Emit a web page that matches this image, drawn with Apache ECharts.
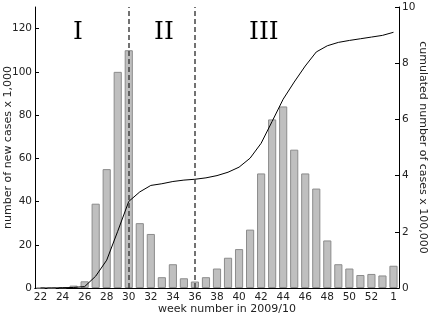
<!DOCTYPE html>
<html>
<head>
<meta charset="utf-8">
<script src="https://cdn.jsdelivr.net/npm/echarts@6/dist/echarts.min.js"></script>
<style>
  html, body { margin: 0; padding: 0; background: #fff; }
  #chart { width: 430px; height: 315px; }
</style>
</head>
<body>
<div id="chart"></div>
<script>
// week numbers 2009 (22..53) followed by week 1 of 2010
const weeks = ['22','23','24','25','26','27','28','29','30','31','32','33','34','35','36','37',
  '38','39','40','41','42','43','44','45','46','47','48','49','50','51','52','53','1'];

// new cases x 1,000
const newCases = [0, 0, 0.3, 1.1, 3.1, 39, 55, 100, 110, 30, 25, 5, 11, 4.5, 3, 5,
  9, 14, 18, 27, 53, 78, 84, 64, 53, 46, 22, 11, 9, 6, 6.5, 5.8, 10.3];

// cumulated cases x 100,000
const cumulated = [0, 0, 0.01, 0.02, 0.05, 0.42, 0.99, 2.02, 3.08, 3.42, 3.65, 3.71, 3.79, 3.84, 3.87, 3.92,
  4.0, 4.12, 4.3, 4.62, 5.15, 5.93, 6.72, 7.33, 7.9, 8.4, 8.62, 8.74, 8.81, 8.87, 8.93, 8.99, 9.1];

const phaseBounds = ['30', '36'];

const chart = echarts.init(document.getElementById('chart'));
const font = 'DejaVu Sans';

chart.setOption({
  animation: false,
  grid: { left: 35, right: 31, top: 7, bottom: 27, containLabel: false, outerBoundsMode: 'none' },
  xAxis: [
    {
      type: 'category',
      data: weeks,
      boundaryGap: true,
      name: 'week number in 2009/10',
      nameLocation: 'middle',
      nameGap: 16,
      nameMoveOverlap: false,
      nameTextStyle: { fontFamily: font, fontSize: 11, color: '#222', padding: [0, 0, 0, 20] },
      axisLine: { lineStyle: { color: '#000', width: 1 } },
      axisTick: { inside: true, length: 4, interval: 1, alignWithLabel: true, lineStyle: { color: '#000' } },
      axisLabel: { interval: 1, margin: 4, fontFamily: font, fontSize: 10.5, color: '#222' },
      splitLine: { show: false }
    },
    {
      type: 'category',
      data: weeks,
      position: 'top',
      axisLine: { lineStyle: { color: '#000', width: 1 } },
      axisTick: { inside: true, length: 4, interval: 1, alignWithLabel: true, lineStyle: { color: '#000' } },
      axisLabel: { show: false }
    }
  ],
  yAxis: [
    {
      type: 'value',
      min: 0, max: 130, interval: 20,
      name: 'number of new cases x 1,000',
      nameLocation: 'middle',
      nameGap: 21,
      nameMoveOverlap: false,
      nameTextStyle: { fontFamily: font, fontSize: 11, color: '#222' },
      axisLine: { show: true, lineStyle: { color: '#000', width: 1 } },
      axisTick: { show: true, inside: true, length: 4, lineStyle: { color: '#000' } },
      axisLabel: { showMaxLabel: false, margin: 3, fontFamily: font, fontSize: 10.5, color: '#222' },
      splitLine: { show: false }
    },
    {
      type: 'value',
      min: 0, max: 10, interval: 2,
      name: 'cumulated number of cases x 100,000',
      nameLocation: 'middle',
      nameGap: 18,
      nameRotate: -90,
      nameMoveOverlap: false,
      nameTextStyle: { fontFamily: font, fontSize: 11, color: '#222' },
      axisLine: { show: true, lineStyle: { color: '#000', width: 1 } },
      axisTick: { show: true, inside: true, length: 4, lineStyle: { color: '#000' } },
      axisLabel: { margin: 3, fontFamily: font, fontSize: 10.5, color: '#222' },
      splitLine: { show: false }
    }
  ],
  graphic: [
    { type: 'text', left: 73, top: 20, style: { text: 'I', font: '25px "DejaVu Serif"', fill: '#000' } },
    { type: 'text', left: 154, top: 20, style: { text: 'II', font: '25px "DejaVu Serif"', fill: '#000' } },
    { type: 'text', left: 249, top: 20, style: { text: 'III', font: '25px "DejaVu Serif"', fill: '#000' } }
  ],
  series: [
    {
      type: 'bar',
      data: newCases,
      barWidth: '74%',
      itemStyle: { color: '#bfbfbf', borderColor: '#8c8c8c', borderWidth: 1 },
      markLine: {
        silent: true,
        symbol: 'none',
        label: { show: false },
        lineStyle: { color: '#444', type: [5, 3], width: 1.5 },
        data: phaseBounds.map(w => ({ xAxis: w }))
      }
    },
    {
      type: 'line',
      yAxisIndex: 1,
      data: cumulated,
      showSymbol: false,
      lineStyle: { color: '#000', width: 1 },
      z: 3
    }
  ]
});
</script>
</body>
</html>
